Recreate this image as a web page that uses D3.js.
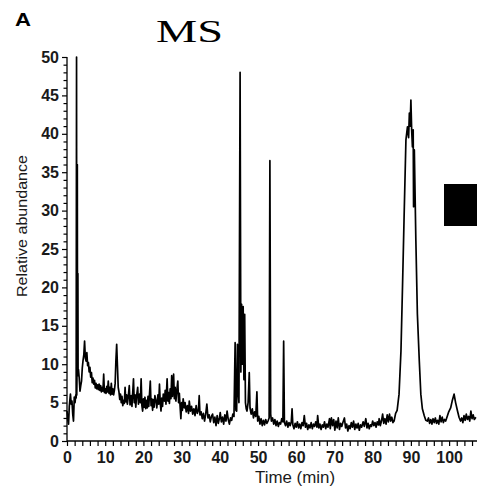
<!DOCTYPE html>
<html>
<head>
<meta charset="utf-8">
<script src="https://cdn.jsdelivr.net/npm/d3@7"></script>
<style>
  html, body { margin: 0; padding: 0; background: #fff; }
  svg { display: block; }
</style>
</head>
<body>
<svg id="chart" width="477" height="488"></svg>
<script>
// ---- data ----
const panelLabel = "A";
const title = "MS";
const xLabel = "Time (min)";
const yLabel = "Relative abundance";
const xTickLabels = [0, 10, 20, 30, 40, 50, 60, 70, 80, 90, 100];
const yTickLabels = [0, 5, 10, 15, 20, 25, 30, 35, 40, 45, 50];

const time = [
  0, 0.2, 0.4, 0.6, 0.9, 1.1, 1.3, 1.5, 1.7, 1.9, 2.1, 2.3, 2.4, 2.5, 2.55, 2.6, 2.7, 2.75, 2.85, 2.9, 3.0,
  3.2, 3.4, 3.6, 3.8, 4.0, 4.2, 4.4, 4.6, 4.8, 5.0, 5.2, 5.4, 5.6, 5.8, 6.0, 6.2, 6.4, 6.6, 6.8, 7.0,
  7.2, 7.4, 7.6, 7.8, 8.0, 8.2, 8.4, 8.6, 8.8, 9.0, 9.2, 9.4, 9.6, 9.8, 10.0, 10.2, 10.4, 10.6, 10.8, 11.0,
  11.2, 11.4, 11.6, 11.8, 12.0, 12.2, 12.4, 12.6, 12.8, 13.0, 13.2, 13.4, 13.6, 13.8, 14.0, 14.2, 14.4, 14.6, 14.8, 15.0,
  15.2, 15.4, 15.6, 15.8, 16.0, 16.3, 16.5, 16.8, 17.0, 17.2, 17.4, 17.6, 17.8, 18.0, 18.2, 18.5, 18.7, 19.0, 19.2, 19.4,
  19.6, 19.8, 20.0, 20.2, 20.4, 20.6, 20.8, 21.0, 21.2, 21.4, 21.6, 21.8, 22.0, 22.2, 22.4, 22.6, 22.8, 23.0, 23.3, 23.5,
  23.8, 24.0, 24.2, 24.4, 24.6, 24.8, 25.0, 25.2, 25.5, 25.7, 25.9, 26.2, 26.4, 26.6, 26.8, 27.0, 27.2, 27.4, 27.6, 27.9,
  28.1, 28.3, 28.5, 28.7, 29.0, 29.2, 29.4, 29.6, 29.8, 30.0, 30.2, 30.4, 30.7, 30.9, 31.2, 31.5, 31.8, 32.0, 32.3, 32.6,
  32.9, 33.2, 33.5, 33.8, 34.1, 34.4, 34.6, 34.8, 35.1, 35.4, 35.7, 36.0, 36.3, 36.6, 36.9, 37.2, 37.5, 37.8, 38.1, 38.4,
  38.7, 39.0, 39.3, 39.6, 39.9, 40.1, 40.4, 40.7, 41.0, 41.3, 41.6, 41.9, 42.2, 42.5, 42.8, 43.1, 43.4, 43.7, 44.0, 44.2,
  44.4, 44.6, 44.8, 45.0, 45.3, 45.5, 45.7, 45.9, 46.1, 46.3, 46.5, 46.7, 46.9, 47.1, 47.4, 47.7, 47.9, 48.2, 48.5, 48.8,
  49.1, 49.4, 49.7, 49.9, 50.2, 50.5, 50.8, 51.1, 51.4, 51.7, 52.0, 52.3, 52.6, 52.9, 53.1, 53.3, 53.5, 53.8, 54.1, 54.4,
  54.7, 55.0, 55.3, 55.6, 55.9, 56.2, 56.5, 56.7, 56.9, 57.2, 57.5, 57.8, 58.1, 58.4, 58.7, 58.9, 59.1, 59.4, 59.7, 60.0,
  60.3, 60.6, 60.9, 61.2, 61.5, 61.8, 62.1, 62.4, 62.7, 63.0, 63.3, 63.6, 63.9, 64.2, 64.5, 64.8, 65.1, 65.4, 65.6, 65.9,
  66.2, 66.5, 66.8, 67.1, 67.4, 67.7, 68.0, 68.3, 68.7, 68.9, 69.2, 69.5, 69.8, 70.1, 70.4, 70.7, 71.0, 71.3, 71.6, 71.9,
  72.2, 72.6, 72.9, 73.2, 73.5, 73.8, 74.1, 74.4, 74.7, 75.0, 75.3, 75.6, 75.9, 76.2, 76.5, 76.8, 77.1, 77.5, 77.8, 78.2,
  78.5, 78.8, 79.1, 79.4, 79.7, 80.0, 80.3, 80.6, 80.9, 81.2, 81.5, 81.7, 82.0, 82.3, 82.6, 82.9, 83.2, 83.5, 83.8, 84.1,
  84.4, 84.7, 85.0, 85.3, 85.6, 86.0, 86.4, 86.9, 87.4, 87.8, 88.2, 88.7, 89.1, 89.4, 89.6, 89.8, 90.0, 90.2, 90.4, 90.6,
  90.7, 90.9, 91.3, 91.7, 92.2, 92.6, 93.0, 93.5, 93.9, 94.3, 94.6, 94.9, 95.2, 95.5, 95.8, 96.1, 96.4, 96.7, 97.0, 97.3,
  97.6, 97.9, 98.2, 98.5, 98.8, 99.1, 99.5, 99.9, 100.4, 100.8, 101.3, 101.7, 102.2, 102.6, 103.0, 103.3, 103.6, 103.9, 104.2, 104.5,
  104.8, 105.1, 105.4, 105.7, 106.0, 106.3, 106.6, 107.0
];

const abundance = [
  3.9, 2.8, 2.2, 4.5, 6.1, 4.8, 5.2, 3.5, 2.6, 5.7, 5.0, 6.0, 5.6, 50, 6.0, 8.0, 36, 8.5, 21.8, 9.0, 9.3,
  8.2, 6.5, 7.2, 7.8, 9.5, 10.5, 11.2, 13.0, 10.8, 10.4, 11.5, 9.8, 10.2, 9.0, 9.6, 8.3, 8.9, 7.6, 8.2, 7.4,
  7.9, 6.9, 7.5, 6.8, 7.3, 6.7, 7.4, 6.6, 7.2, 6.4, 7.0, 6.5, 8.7, 6.3, 6.8, 6.2, 7.1, 6.4, 7.8, 6.2,
  7.0, 6.0, 7.5, 6.1, 6.8, 6.0, 6.6, 7.5, 10.5, 12.6, 9.8, 7.0, 6.4, 5.4, 6.1, 5.0, 5.8, 4.6, 5.3, 4.9,
  7.0, 5.1, 6.0, 4.8, 5.6, 7.2, 4.7, 5.9, 4.5, 6.3, 8.1, 5.0, 6.0, 4.4, 5.8, 7.0, 4.8, 6.1, 5.0, 8.1,
  4.6, 3.9, 5.5, 4.4, 5.7, 4.2, 5.3, 4.3, 5.8, 4.5, 6.2, 7.8, 4.6, 5.5, 4.0, 5.4, 4.4, 5.9, 5.2, 4.3,
  6.0, 4.8, 7.4, 5.0, 3.9, 5.6, 4.5, 6.1, 5.2, 6.6, 4.8, 8.1, 5.2, 6.3, 4.9, 6.8, 5.5, 8.5, 5.8, 8.7,
  5.5, 7.0, 5.2, 6.4, 7.8, 5.0, 6.2, 4.5, 2.9, 5.0, 4.0, 5.5, 4.3, 5.0, 3.8, 4.6, 3.6, 5.2, 3.9, 4.5,
  3.5, 4.2, 3.3, 4.6, 3.6, 4.0, 5.9, 3.4, 3.8, 2.9, 3.6, 2.6, 3.5, 4.8, 3.0, 3.4, 2.5, 3.2, 3.5, 2.4,
  3.1, 2.0, 3.3, 2.3, 3.0, 3.7, 2.5, 3.1, 2.2, 3.4, 2.6, 3.9, 2.8, 2.2, 3.0, 2.7, 3.5, 3.2, 12.8, 4.0,
  3.9, 12.6, 6.5, 5.0, 48.0, 9.0, 17.8, 10.0, 17.5, 8.0, 16.5, 5.0, 4.2, 3.9, 5.0, 8.9, 4.3, 3.5, 4.2, 3.0,
  3.8, 3.2, 6.4, 2.6, 3.2, 2.2, 2.9, 2.0, 2.7, 2.1, 2.8, 2.3, 2.6, 3.0, 36.5, 3.5, 2.6, 3.0, 2.2, 2.8,
  2.0, 2.6, 1.9, 2.4, 2.2, 2.9, 2.5, 13.0, 2.4, 2.0, 2.6, 1.8, 2.4, 2.0, 2.5, 4.2, 2.1, 1.6, 2.3, 1.8,
  2.5, 1.7, 2.2, 1.6, 2.4, 2.0, 3.3, 1.8, 2.3, 1.5, 2.1, 1.7, 2.4, 1.6, 2.2, 1.9, 2.5, 1.8, 3.3, 1.7,
  2.2, 1.5, 2.1, 1.8, 2.5, 1.6, 2.2, 1.8, 2.9, 1.6, 3.0, 2.0, 2.8, 1.4, 2.6, 1.7, 3.0, 1.5, 2.3, 1.9,
  2.4, 3.0, 1.7, 2.2, 1.3, 2.0, 1.6, 2.4, 1.8, 2.6, 1.5, 2.2, 1.7, 2.3, 1.4, 2.1, 1.8, 2.5, 1.9, 2.9,
  1.7, 2.3, 1.6, 2.1, 1.9, 2.6, 2.0, 2.4, 1.8, 2.5, 2.1, 2.9, 2.0, 2.6, 3.5, 2.3, 2.9, 2.2, 3.4, 2.5,
  3.5, 2.6, 3.1, 2.4, 2.6, 3.6, 4.0, 6.1, 11.7, 20.0, 28.7, 39.2, 40.9, 39.5, 42.7, 41.0, 44.4, 40.5, 38.3, 40.5,
  30.5, 37.9, 26.1, 16.5, 10.4, 6.1, 4.2, 3.3, 2.7, 2.6, 3.0, 2.3, 2.8, 2.2, 2.9, 2.4, 3.0, 2.3, 2.7, 2.2,
  3.3, 2.5, 3.1, 2.4, 2.8, 2.6, 3.2, 3.8, 4.3, 5.2, 6.1, 5.0, 3.9, 3.1, 2.6, 3.0, 2.4, 3.3, 2.7, 3.5,
  2.8, 3.2, 2.6, 3.9, 2.9, 3.4, 2.8, 3.1
];

// ---- layout ----
const svg = d3.select("#chart");
const x = d3.scaleLinear().domain([0, 107.3]).range([67, 477]);
const y = d3.scaleLinear().domain([0, 50]).range([441, 57]);

const font = "'Liberation Sans', Arial, sans-serif";

// y axis
const yAxis = d3.axisLeft(y)
  .tickValues(d3.range(0, 51, 1))
  .tickSize(5)
  .tickPadding(4)
  .tickFormat(d => yTickLabels.includes(d) ? d : "");
const gy = svg.append("g").attr("transform", "translate(67,0)").call(yAxis);
gy.select(".domain").attr("stroke", "#000").attr("stroke-width", 1.3).attr("d", `M0,${y(50)}V${y(0)}`);
gy.selectAll(".tick line").attr("stroke", "#000").attr("stroke-width", 1.2)
  .attr("x2", d => yTickLabels.includes(d) ? -5 : -3.5);
gy.selectAll(".tick text")
  .attr("font-family", font).attr("font-size", 16).attr("font-weight", "bold")
  .attr("fill", "#1a1a1a").attr("x", -8);

// x axis
const xAxis = d3.axisBottom(x)
  .tickValues(d3.range(0, 107, 2))
  .tickSize(5)
  .tickPadding(6)
  .tickFormat(d => xTickLabels.includes(d) ? d : "");
const gx = svg.append("g").attr("transform", "translate(0,441)").call(xAxis);
gx.select(".domain").attr("stroke", "#000").attr("stroke-width", 1.3).attr("d", `M${x(0)},0H477`);
gx.selectAll(".tick line").attr("stroke", "#000").attr("stroke-width", 1.2);
gx.selectAll(".tick text")
  .attr("font-family", font).attr("font-size", 16).attr("font-weight", "bold")
  .attr("fill", "#1a1a1a");

// trace
const pts = time.map((t, i) => [t, abundance[i]]);
const line = d3.line().x(d => x(d[0])).y(d => y(d[1]));
svg.append("path")
  .datum(pts)
  .attr("d", line)
  .attr("fill", "none")
  .attr("stroke", "#000")
  .attr("stroke-width", 1.7)
  .attr("stroke-linejoin", "round");

// labels
svg.append("text")
  .attr("x", 295).attr("y", 483)
  .attr("text-anchor", "middle")
  .attr("font-family", font).attr("font-size", 16)
  .attr("textLength", 80).attr("lengthAdjust", "spacingAndGlyphs")
  .attr("fill", "#1a1a1a")
  .text(xLabel);

svg.append("text")
  .attr("transform", "translate(27,226) rotate(-90)")
  .attr("text-anchor", "middle")
  .attr("font-family", font).attr("font-size", 15)
  .attr("textLength", 142).attr("lengthAdjust", "spacingAndGlyphs")
  .attr("fill", "#1a1a1a")
  .text(yLabel);

svg.append("text")
  .attr("x", 15).attr("y", 26)
  .attr("font-family", font).attr("font-size", 19).attr("font-weight", "bold")
  .attr("textLength", 16).attr("lengthAdjust", "spacingAndGlyphs")
  .attr("fill", "#000")
  .text(panelLabel);

svg.append("text")
  .attr("x", 156).attr("y", 42)
  .attr("font-family", "'Liberation Serif', 'Times New Roman', serif").attr("font-size", 31)
  .attr("textLength", 67).attr("lengthAdjust", "spacingAndGlyphs")
  .attr("fill", "#000")
  .text(title);

// black box at right
svg.append("rect")
  .attr("x", 444).attr("y", 184).attr("width", 33).attr("height", 42)
  .attr("fill", "#000");
</script>
</body>
</html>
